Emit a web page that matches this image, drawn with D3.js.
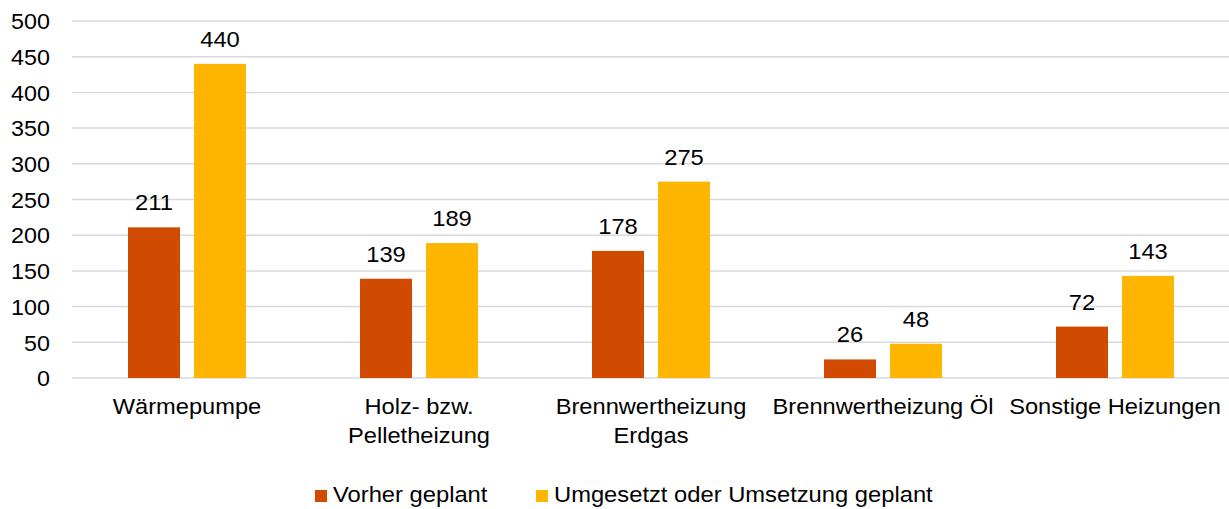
<!DOCTYPE html>
<html><head><meta charset="utf-8">
<script src="https://cdn.jsdelivr.net/npm/d3@7"></script>
<style>
html,body{margin:0;padding:0;background:#fff;}
svg{display:block;font-family:"Liberation Sans",Arial,sans-serif;}
</style></head>
<body>
<svg id="chart" width="1229" height="509"></svg>
<script>
const categories = [["Wärmepumpe"], ["Holz- bzw.", "Pelletheizung"], ["Brennwertheizung", "Erdgas"], ["Brennwertheizung Öl"], ["Sonstige Heizungen"]];
const seriesNames = ["Vorher geplant", "Umgesetzt oder Umsetzung geplant"];
const vorherGeplant = [211, 139, 178, 26, 72];
const umgesetzt = [440, 189, 275, 48, 143];
const yTicks = [0, 50, 100, 150, 200, 250, 300, 350, 400, 450, 500];
const colors = ["#D04A02", "#FFB600"];

const svg = d3.select("#chart");
const plotLeft = 71, plotRight = 1231, plotTop = 21, plotBottom = 378;

const x0 = d3.scaleBand().domain(d3.range(categories.length)).range([plotLeft, plotRight]).paddingInner(0).paddingOuter(0);
const x1 = d3.scaleBand().domain([0, 1]).range([57, 57 + 118]).paddingInner(14/66).paddingOuter(0);
const y = d3.scaleLinear().domain([0, 500]).range([plotBottom, plotTop]);

// gridlines
svg.append("g").selectAll("line").data(yTicks).join("line")
  .attr("x1", 72).attr("x2", 1229)
  .attr("y1", d => y(d)).attr("y2", d => y(d))
  .attr("stroke", "#d9d9d9").attr("stroke-width", 1.5);

// y axis labels
const yAxis = d3.axisLeft(y).tickValues(yTicks).tickSize(0).tickPadding(0);
const ya = svg.append("g").attr("transform", "translate(50,0)").call(yAxis);
ya.select(".domain").remove();
ya.attr("font-size", null).attr("font-family", null);
ya.selectAll(".tick text").attr("font-size", 22).attr("fill", "#000")
  .attr("x", 0).attr("dy", "0.35em").attr("transform", "scale(1.06,1)");

const series = [vorherGeplant, umgesetzt];
const groups = svg.append("g").selectAll("g").data(categories).join("g")
  .attr("transform", (d, i) => `translate(${x0(i)},0)`);

groups.each(function(cat, i) {
  const g = d3.select(this);
  series.forEach((s, k) => {
    g.append("rect")
      .attr("x", x1(k)).attr("width", x1.bandwidth())
      .attr("y", y(s[i])).attr("height", y(0) - y(s[i]))
      .attr("fill", colors[k]);
    g.append("text")
      .attr("transform", `translate(${x1(k) + x1.bandwidth() / 2},${y(s[i]) - 17}) scale(1.08,1)`)
      .attr("text-anchor", "middle")
      .attr("font-size", 22).attr("fill", "#000")
      .text(s[i]);
  });
  const t = g.append("text").attr("text-anchor", "middle").attr("font-size", 21.5).attr("fill", "#000")
    .attr("transform", `translate(${x0.bandwidth() / 2},414) scale(1.1,1)`);
  cat.forEach((line, j) => {
    t.append("tspan").attr("x", 0).attr("y", j * 29).text(line);
  });
});

// legend
const legend = svg.append("g");
const legX = [315, 536];
seriesNames.forEach((n, k) => {
  legend.append("rect").attr("x", legX[k]).attr("y", 490).attr("width", 12).attr("height", 12).attr("fill", colors[k]);
  legend.append("text").attr("font-size", 22).attr("fill", "#000")
    .attr("transform", `translate(${legX[k] + 18},502) scale(1.08,1)`)
    .text(n);
});
</script>
</body></html>
